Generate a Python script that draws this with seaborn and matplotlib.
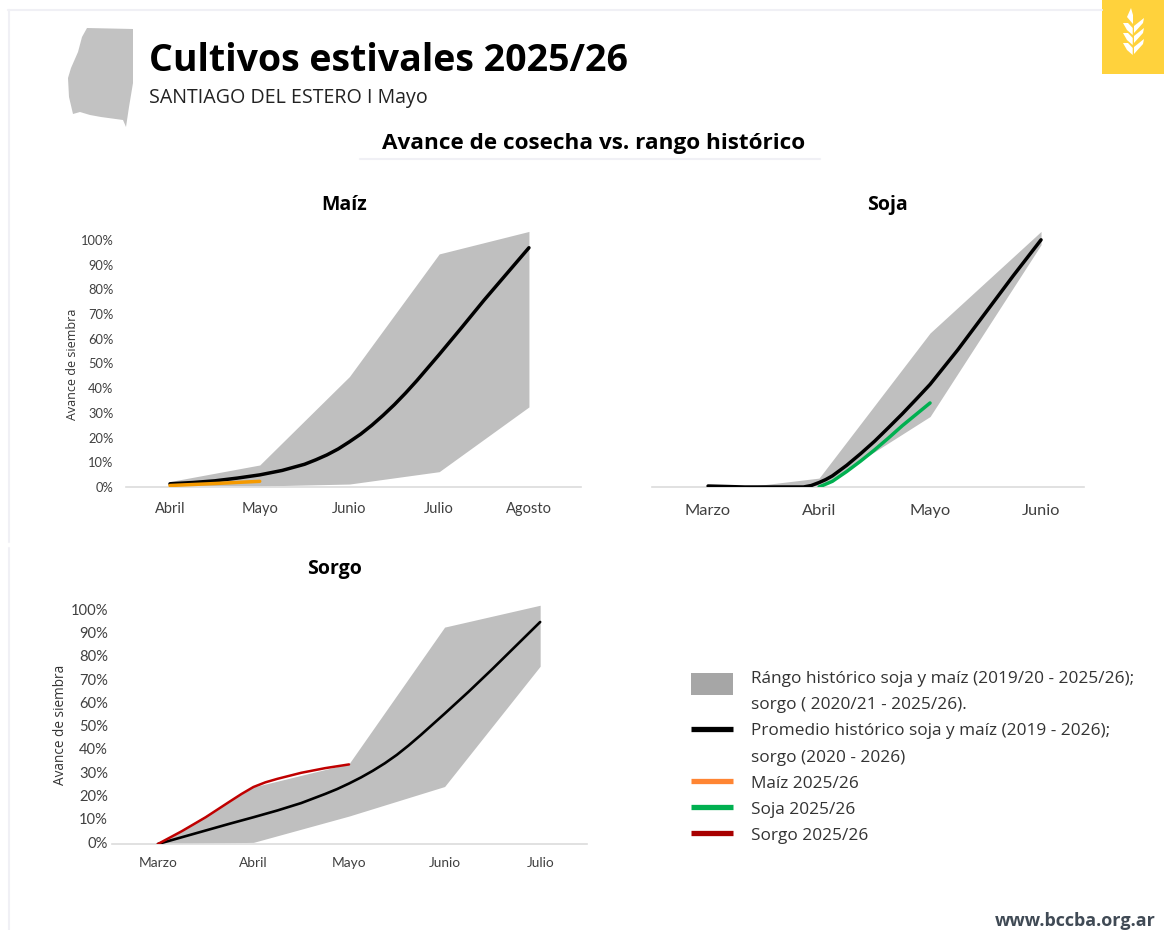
import matplotlib
matplotlib.use("Agg")
import matplotlib.pyplot as plt
from matplotlib.legend_handler import HandlerPatch
from matplotlib.lines import Line2D
from matplotlib.patches import Patch, Polygon, Rectangle
from matplotlib.transforms import ScaledTranslation
import seaborn as sns

# --- Maiz
maiz_months = ["Abril", "Mayo", "Junio", "Julio", "Agosto"]
maiz_band_x = [0, 1, 2, 3, 4]
maiz_top = [2.2, 8.9, 44.7, 94.3, 103.4]
maiz_low = [0.6, 0.4, 1.2, 6.2, 32.4]
maiz_avg_x = [0, 0.25, 0.5, 0.75, 1, 1.25, 1.5, 1.625, 1.75, 1.875, 2, 2.125, 2.25, 2.375, 2.5, 2.625, 2.75, 3, 3.25, 3.5, 3.75, 4]
maiz_avg = [1.3, 1.8, 2.5, 3.6, 4.9, 6.7, 9.2, 11, 13, 15.4, 18.3, 21.4, 25, 29, 33.3, 38, 43, 53.6, 64.5, 75.6, 86.2, 96.8]
maiz_cur_x = [0, 0.5, 1]
maiz_cur = [0.6, 1.4, 2.3]

# --- Soja
soja_months = ["Marzo", "Abril", "Mayo", "Junio"]
soja_band_x = [0.33, 1, 2, 3]
soja_top = [0, 3.6, 62.3, 103.4]
soja_low = [0, 0, 28.5, 98]
soja_avg_x = [0, 0.17, 0.33, 0.86, 0.93, 1, 1.06, 1.12, 1.25, 1.375, 1.5, 1.625, 1.75, 1.875, 2, 2.25, 2.5, 2.75, 3]
soja_avg = [0.4, 0.2, 0, 0, 0.6, 1.8, 3, 4.5, 8.8, 13.5, 18.5, 24, 29.6, 35.5, 41.5, 55.5, 70.5, 85.5, 100]
soja_cur_x = [1, 1.12, 1.25, 1.375, 1.5, 1.625, 1.75, 1.875, 2]
soja_cur = [0, 2.3, 6.3, 10.5, 15, 19.8, 24.8, 29.4, 34]

# --- Sorgo
sorgo_months = ["Marzo", "Abril", "Mayo", "Junio", "Julio"]
sorgo_band_x = [0, 1, 2, 3, 4]
sorgo_top = [0, 24.5, 34.5, 93.2, 102.6]
sorgo_low = [0, 0.7, 12, 24.7, 76.4]
sorgo_avg_x = [0, 0.25, 0.5, 0.75, 1, 1.25, 1.5, 1.75, 1.875, 2, 2.125, 2.25, 2.375, 2.5, 2.625, 2.75, 3, 3.25, 3.5, 3.75, 4]
sorgo_avg = [0, 2.9, 5.8, 8.7, 11.5, 14.4, 17.6, 21.5, 23.6, 26, 28.6, 31.5, 34.7, 38.3, 42.4, 46.8, 56, 65.4, 75.2, 85.3, 95.4]
sorgo_cur_x = [0, 0.25, 0.5, 0.75, 0.875, 1, 1.125, 1.25, 1.5, 1.75, 2]
sorgo_cur = [0, 5.5, 11.5, 18.2, 21.5, 24.5, 26.5, 28, 30.6, 32.6, 34.2]

pct_ticks = [0, 10, 20, 30, 40, 50, 60, 70, 80, 90, 100]
pct_labels = [f"{v}%" for v in pct_ticks]

BAND = "#BFBFBF"
AXIS = "#DCDCDC"
TICK = "#404040"
PX_W, PX_H = 1164, 930

sns.set_theme(style="white")
plt.rcParams["font.family"] = ["Open Sans", "DejaVu Sans"]

fig = plt.figure(figsize=(PX_W / 100, PX_H / 100), dpi=100)


def axes_px(left, right, top, bottom):
    return fig.add_axes([left / PX_W, 1 - bottom / PX_H, (right - left) / PX_W, (bottom - top) / PX_H])


def draw_panel(ax, months, band_x, top, low, avg_x, avg, cur_x, cur, cur_color, xlim, ylim_top,
               avg_lw, cur_lw, month_size):
    ax.fill_between(band_x, low, top, color=BAND, linewidth=0, zorder=1)
    sns.lineplot(x=avg_x, y=avg, ax=ax, color="black", linewidth=avg_lw, errorbar=None,
                 solid_capstyle="round", solid_joinstyle="round", zorder=3)
    sns.lineplot(x=cur_x, y=cur, ax=ax, color=cur_color, linewidth=cur_lw, errorbar=None,
                 solid_capstyle="round", solid_joinstyle="round", zorder=4)
    ax.set_xlim(*xlim)
    ax.set_ylim(0, ylim_top)
    ax.set_xticks(range(len(months)))
    ax.set_xticklabels(months, fontsize=month_size, color=TICK, family="Lato")
    ax.tick_params(axis="both", length=0)
    ax.patch.set_alpha(0)
    sns.despine(ax=ax, left=True)
    ax.spines["bottom"].set_color(AXIS)
    ax.spines["bottom"].set_linewidth(1.2)


# Maiz
ax1 = axes_px(126, 581, 225, 487)
draw_panel(ax1, maiz_months, maiz_band_x, maiz_top, maiz_low, maiz_avg_x, maiz_avg,
           maiz_cur_x, maiz_cur, "#F59A00", (-0.49, 4.58), 106, 2.5, 2.5, 10.5)
ax1.set_yticks(pct_ticks)
ax1.set_yticklabels(pct_labels, fontsize=9.3, color=TICK, family="Lato")
ax1.tick_params(axis="x", pad=10.5)
ax1.tick_params(axis="y", pad=9)

# Soja
ax2 = axes_px(652, 1084, 225, 487)
draw_panel(ax2, soja_months, soja_band_x, soja_top, soja_low, soja_avg_x, soja_avg,
           soja_cur_x, soja_cur, "#00B050", (-0.505, 3.387), 106, 2.5, 2.5, 11.8)
ax2.set_yticks([])
ax2.tick_params(axis="x", pad=12)

# Sorgo
ax3 = axes_px(112, 587, 595, 844)
draw_panel(ax3, sorgo_months, sorgo_band_x, sorgo_top, sorgo_low, sorgo_avg_x, sorgo_avg,
           sorgo_cur_x, sorgo_cur, "#C00000", (-0.48, 4.49), 107, 1.9, 1.8, 9.9)
ax3.set_yticks(pct_ticks)
ax3.set_yticklabels(pct_labels, fontsize=10.6, color=TICK, family="Lato")
ax3.tick_params(axis="x", pad=9.6)
ax3.tick_params(axis="y", pad=3)
for lab in ax3.get_yticklabels():
    lab.set_transform(lab.get_transform() + ScaledTranslation(0, 1.4 / 72, fig.dpi_scale_trans))

# Overlay in pixel coordinates for the page furniture
page = fig.add_axes([0, 0, 1, 1], zorder=-1)
page.set_xlim(0, PX_W)
page.set_ylim(PX_H, 0)
page.axis("off")

EDGE = "#F0F0F5"
page.plot([8, 1102], [10, 10], color=EDGE, lw=1.5)
page.plot([8.5, 8.5], [10, 542], color=EDGE, lw=1.5)
page.plot([8.5, 8.5], [548, 930], color=EDGE, lw=1.5)
page.plot([360, 820], [159, 159], color=EDGE, lw=1.5)

# province outline
page.add_patch(Polygon([(87, 28), (133, 29), (133, 83), (129, 107), (126, 127), (123, 120),
                        (101, 117), (90, 115), (80, 112), (73, 114), (69, 97), (68, 78),
                        (71, 68), (78, 52), (82, 37)], closed=True, color="#C2C2C2", lw=0))

# logo
page.add_patch(Rectangle((1102, 0), 62, 74, color="#FFD23C", lw=0))
page.add_patch(Polygon([(1131, 8), (1133, 15), (1133, 24), (1127, 17)], color="white", lw=0))
for t in [23, 33, 43]:
    page.add_patch(Polygon([(1123, t), (1128, t), (1132.7, t + 5), (1132.7, t + 12), (1127, t + 7)],
                           color="white", lw=0))
for t in [18, 28, 39]:
    page.add_patch(Polygon([(1144, t), (1143, t + 5), (1134, t + 15), (1134, t + 8)],
                           color="white", lw=0))

page.text(149, 61, "Cultivos estivales 2025/26", fontsize=27, fontweight="bold", color="black", va="center")
page.text(149, 98, "SANTIAGO DEL ESTERO I Mayo", fontsize=14.1, color="#222222", va="center")
page.text(594, 144, "Avance de cosecha vs. rango histórico", fontsize=16.2, fontweight="bold",
          color="black", ha="center", va="center")
page.text(344, 205, "Maíz", fontsize=14, fontweight="bold", color="black", ha="center", va="center")
page.text(887, 205, "Soja", fontsize=14, fontweight="bold", color="black", ha="center", va="center")
page.text(335, 569, "Sorgo", fontsize=14, fontweight="bold", color="black", ha="center", va="center")
page.text(72, 364, "Avance de siembra", fontsize=9, color="#333333", rotation=90, ha="center", va="center")
page.text(60, 725, "Avance de siembra", fontsize=9.8, color="#333333", rotation=90, ha="center", va="center")
page.text(995, 929.5, "www.bccba.org.ar", fontsize=13, fontweight="bold", color="#404A55", va="bottom")


def range_key(legend, orig_handle, xdescent, ydescent, width, height, fontsize):
    # the grey key is taller than its row and sits a bit below it
    return Rectangle((-xdescent, height / 2 - 5 - 7.9), width, 15.8)


# Legend: the wrapped entries take a second row with an empty handle
blank = Line2D([], [], color="none")
range_handle = Patch(facecolor="#A6A6A6", edgecolor="none")
handles = [
    range_handle, blank,
    Line2D([], [], color="black", lw=3.8, solid_capstyle="butt"), blank,
    Line2D([], [], color="#FF8533", lw=3.8, solid_capstyle="butt"),
    Line2D([], [], color="#00B050", lw=3.8, solid_capstyle="butt"),
    Line2D([], [], color="#A80000", lw=3.8, solid_capstyle="butt"),
]
labels = [
    "Rángo histórico soja y maíz (2019/20 - 2025/26);",
    "sorgo ( 2020/21 - 2025/26).",
    "Promedio histórico soja y maíz (2019 - 2026);",
    "sorgo (2020 - 2026)",
    "Maíz 2025/26",
    "Soja 2025/26",
    "Sorgo 2025/26",
]
fig.legend(handles, labels, loc="upper left", bbox_to_anchor=(691 / PX_W, 1 - 671 / PX_H),
           frameon=False, fontsize=12.45, labelcolor="#333333", handlelength=2.4, handleheight=0.75,
           handletextpad=1.05, labelspacing=0.56, borderpad=0, borderaxespad=0,
           handler_map={range_handle: HandlerPatch(patch_func=range_key)})

plt.savefig("out.png", dpi=100)
plt.close()
